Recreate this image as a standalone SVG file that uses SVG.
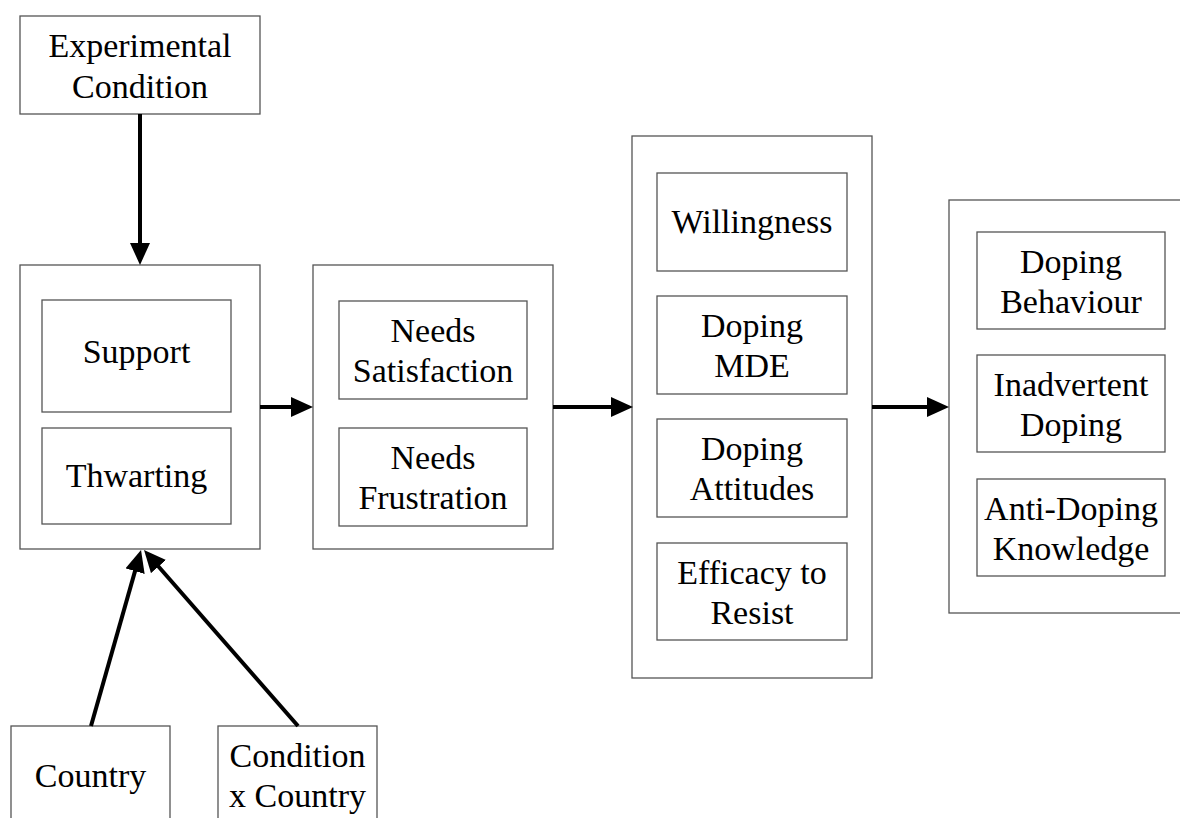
<svg xmlns="http://www.w3.org/2000/svg" width="1180" height="818" viewBox="0 0 1180 818">
<style>
.box{fill:#fff;stroke:#555;stroke-width:1.3}
.t{font-family:"Liberation Serif","Times New Roman",serif;font-size:34px;fill:#000;text-anchor:middle}
.c{stroke:#000;stroke-width:4;fill:none;marker-end:url(#ah)}
</style>
<defs>
<marker id="ah" viewBox="0 0 22 20" refX="12" refY="10" markerWidth="22" markerHeight="20" markerUnits="userSpaceOnUse" orient="auto">
<path d="M0,0 L22,10 L0,20 z" fill="#000"/>
</marker>
</defs>
<rect width="1180" height="818" fill="#fff"/>

<g id="exp">
<rect class="box" x="20" y="16" width="240" height="98"/>
<text class="t" x="140" y="57">Experimental</text>
<text class="t" x="140" y="98">Condition</text>
</g>

<g id="manip">
<rect class="box" x="20" y="265" width="240" height="284"/>
<g id="support"><rect class="box" x="42" y="300" width="189" height="112"/><text class="t" x="136.5" y="363">Support</text></g>
<g id="thwarting"><rect class="box" x="42" y="428" width="189" height="96"/><text class="t" x="136.5" y="487">Thwarting</text></g>
</g>

<g id="needs">
<rect class="box" x="313" y="265" width="240" height="284"/>
<g id="sat"><rect class="box" x="339" y="301" width="188" height="98"/><text class="t" x="433" y="342">Needs</text><text class="t" x="433" y="382">Satisfaction</text></g>
<g id="frus"><rect class="box" x="339" y="428" width="188" height="98"/><text class="t" x="433" y="469">Needs</text><text class="t" x="433" y="509">Frustration</text></g>
</g>

<g id="cog">
<rect class="box" x="632" y="136" width="240" height="542"/>
<g id="will"><rect class="box" x="657" y="173" width="190" height="98"/><text class="t" x="752" y="233">Willingness</text></g>
<g id="mde"><rect class="box" x="657" y="296" width="190" height="98"/><text class="t" x="752" y="337">Doping</text><text class="t" x="752" y="377">MDE</text></g>
<g id="att"><rect class="box" x="657" y="419" width="190" height="98"/><text class="t" x="752" y="460">Doping</text><text class="t" x="752" y="500">Attitudes</text></g>
<g id="eff"><rect class="box" x="657" y="543" width="190" height="97"/><text class="t" x="752" y="584">Efficacy to</text><text class="t" x="752" y="624">Resist</text></g>
</g>

<g id="out">
<rect class="box" x="949" y="200" width="260" height="413"/>
<g id="beh"><rect class="box" x="977" y="232" width="188" height="97"/><text class="t" x="1071" y="273">Doping</text><text class="t" x="1071" y="313">Behaviour</text></g>
<g id="inad"><rect class="box" x="977" y="355" width="188" height="97"/><text class="t" x="1071" y="396">Inadvertent</text><text class="t" x="1071" y="436">Doping</text></g>
<g id="know"><rect class="box" x="977" y="479" width="188" height="97"/><text class="t" x="1071" y="520">Anti-Doping</text><text class="t" x="1071" y="560">Knowledge</text></g>
</g>

<g id="country">
<rect class="box" x="11" y="726" width="159" height="120"/>
<text class="t" x="90.5" y="787">Country</text>
</g>

<g id="cxc">
<rect class="box" x="218" y="726" width="159" height="120"/>
<text class="t" x="297.5" y="767">Condition</text>
<text class="t" x="297.5" y="807">x Country</text>
</g>

<g id="connectors">
<line class="c" x1="140" y1="114" x2="140" y2="255"/>
<line class="c" x1="260" y1="407" x2="303" y2="407"/>
<line class="c" x1="553" y1="407" x2="623" y2="407"/>
<line class="c" x1="872" y1="407" x2="939" y2="407"/>
<line class="c" x1="91" y1="726" x2="138.3" y2="559.6"/>
<line class="c" x1="298" y1="726" x2="150.6" y2="557.5"/>
</g>
</svg>
